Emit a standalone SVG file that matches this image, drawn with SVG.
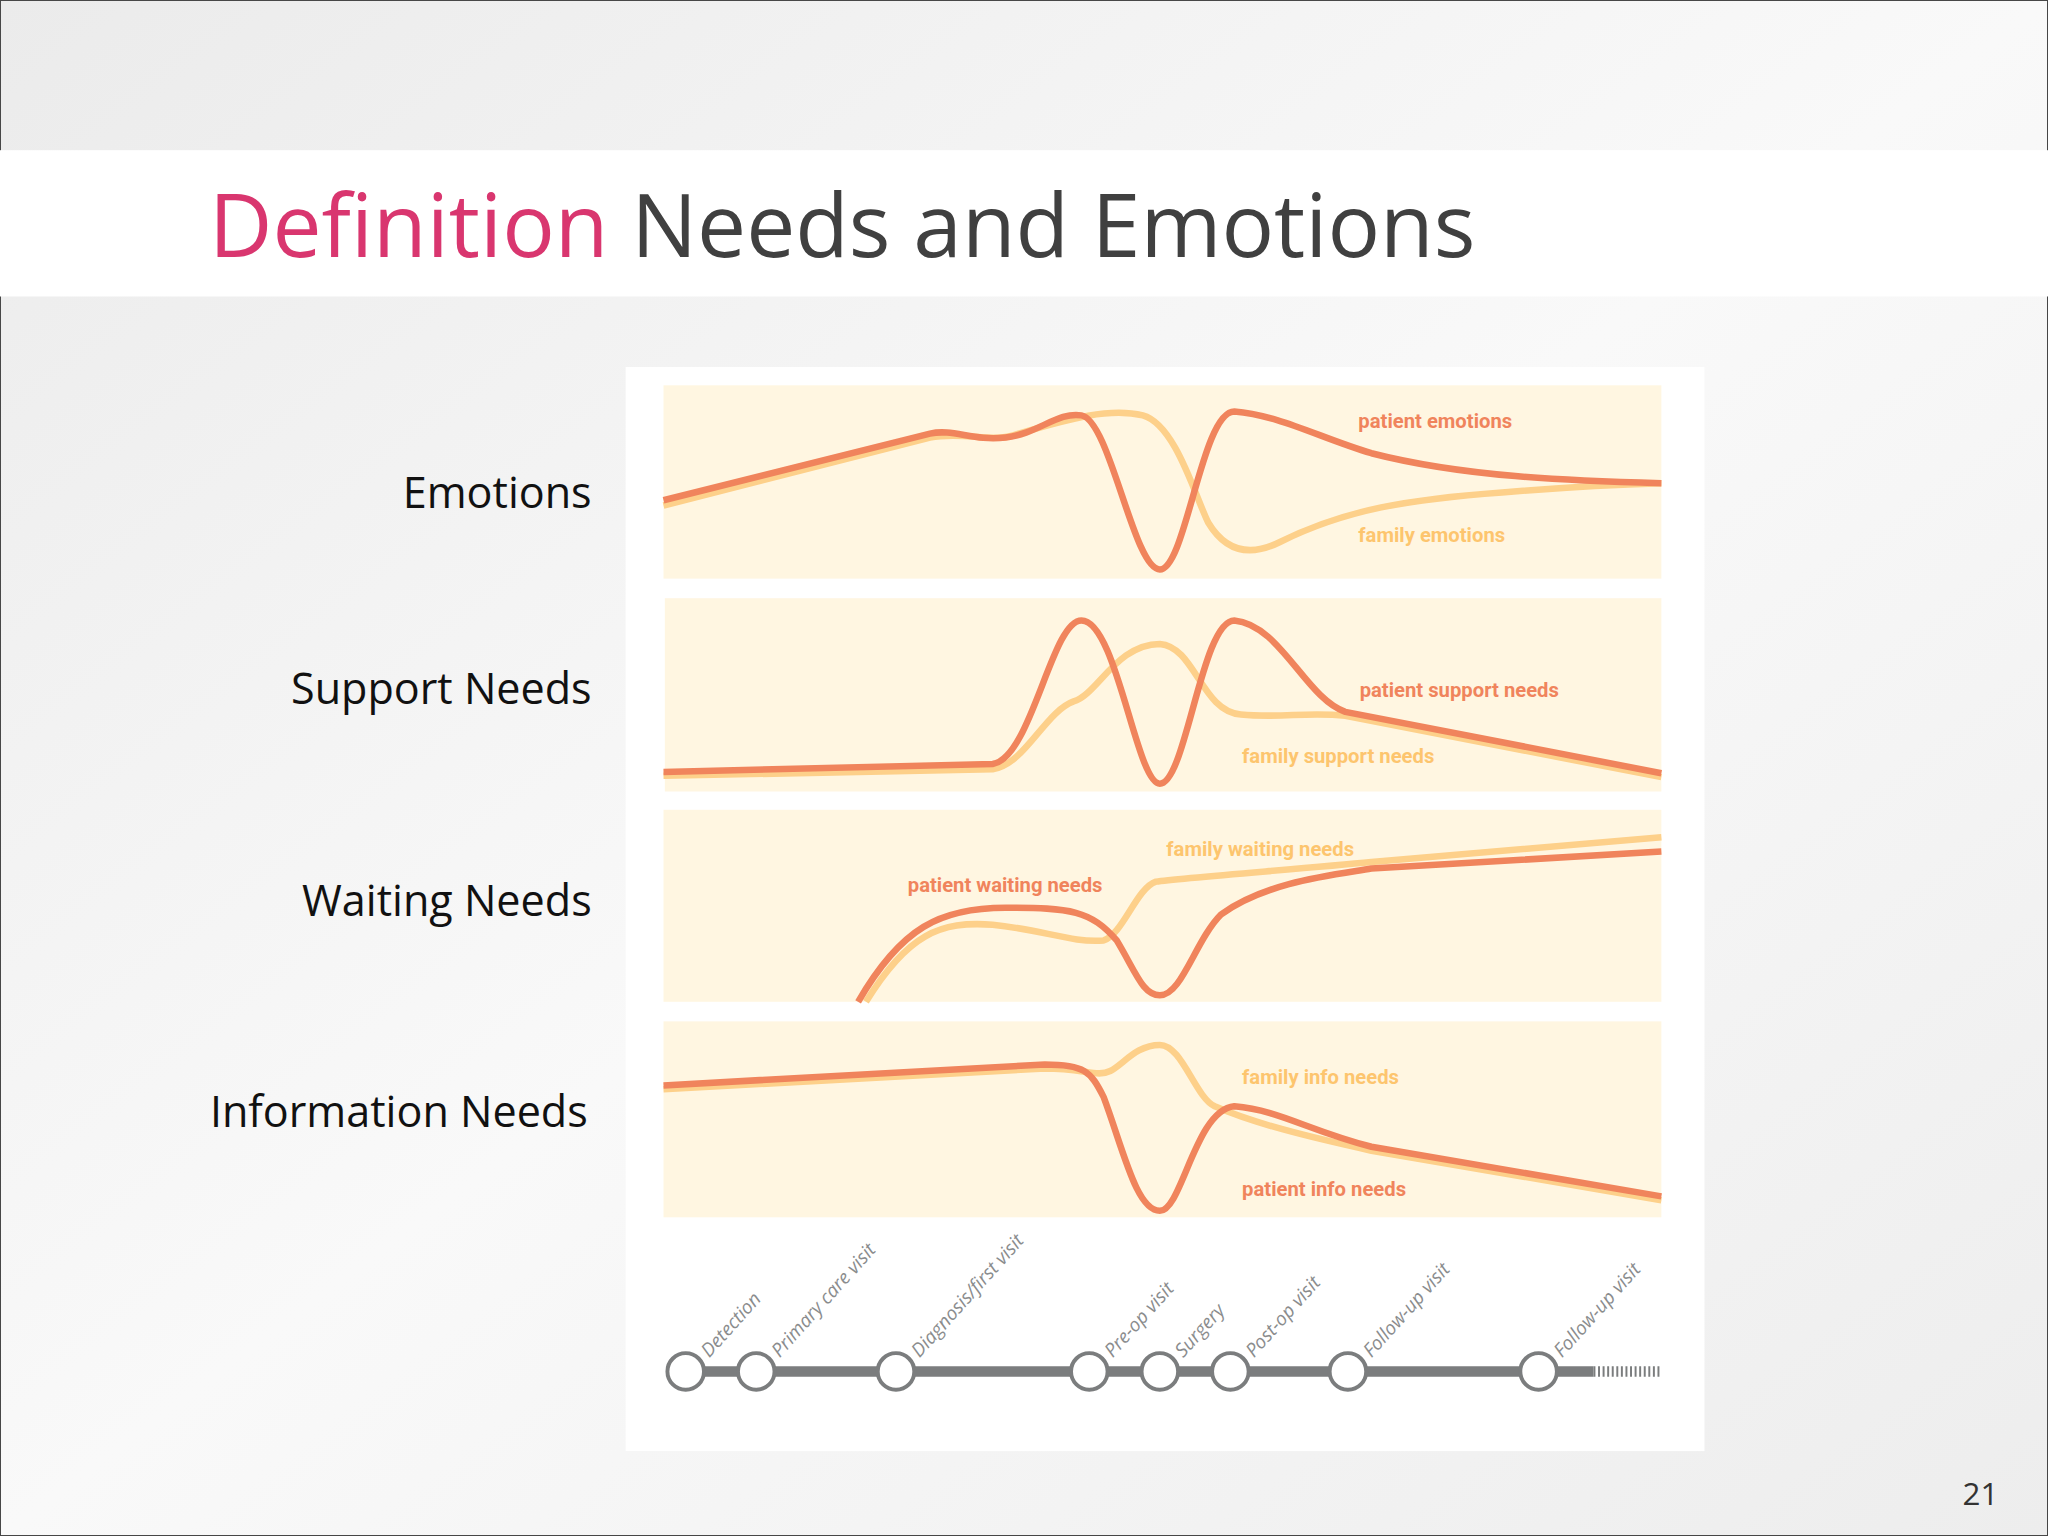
<svg xmlns="http://www.w3.org/2000/svg" width="2048" height="1536" viewBox="0 0 2048 1536">
<defs>
<linearGradient id="bg" x1="0" y1="0" x2="1" y2="1"><stop offset="0" stop-color="#ebebeb"/><stop offset="0.5" stop-color="#f9f9f9"/><stop offset="1" stop-color="#ededed"/></linearGradient>
<style>
.lbl{font-family:"Open Sans","Noto Sans",sans-serif;font-size:33px;fill:#111;text-anchor:end}
.panel{fill:#fff6e1}
.pt{fill:none;stroke:#f0845c;stroke-width:5;stroke-linejoin:round}
.fm{fill:none;stroke:#fdd08a;stroke-width:5;stroke-linejoin:round}
.cp{font-family:Roboto,"Liberation Sans",sans-serif;font-weight:bold;font-size:15.5px;fill:#f0845c}
.cf{font-family:Roboto,"Liberation Sans",sans-serif;font-weight:bold;font-size:15.5px;fill:#fdc56e}
.node{fill:#fff;stroke:#7b7d7e;stroke-width:3}
.tl{font-family:"Open Sans","Noto Sans",sans-serif;font-style:italic;font-size:14.5px;fill:#8a8c8d}
</style>
</defs>
<rect width="2048" height="1536" fill="url(#bg)"/>
<g transform="scale(1.30612)">
<rect x="0" y="0" width="1568" height="1176" fill="none" stroke="#444" stroke-width="1.5"/>
<rect x="0" y="115" width="1568" height="112" fill="#ffffff"/>
<text x="160" y="197" font-family="Open Sans,Noto Sans,sans-serif" font-size="67" fill="#404040"><tspan fill="#d9366f">Definition</tspan> Needs and Emotions</text>
<g id="labels">
<text class="lbl" x="453" y="389">Emotions</text>
<text class="lbl" x="453" y="539">Support Needs</text>
<text class="lbl" x="453" y="701">Waiting Needs</text>
<text class="lbl" x="450" y="863">Information Needs</text>
</g>
<rect x="479" y="281" width="826" height="830" fill="#ffffff"/>
<g id="panels">
<rect class="panel" x="508" y="295" width="764" height="148"/>
<rect class="panel" x="509" y="458" width="763" height="148"/>
<rect class="panel" x="508" y="620" width="764" height="147"/>
<rect class="panel" x="508" y="782" width="764" height="150"/>
</g>
<g id="emotions">
<path class="fm" d="M508,387 L712,335 C740,330 760,340 780,332 C820,320 850,312 875,318 C900,325 915,380 925,400 C940,425 960,425 980,415 C1030,390 1080,382 1150,377 C1200,373 1240,371 1272,370"/>
<path class="pt" d="M508,383 L712,332 C730,328 745,338 770,335 C795,332 810,315 828,318 C850,322 868,436 888,436 C908,436 920,315 945,315 C980,318 1010,335 1050,347 C1120,365 1200,368 1272,370"/>
<text class="cp" x="1040" y="328">patient emotions</text>
<text class="cf" x="1040" y="415">family emotions</text>
</g>
<g id="support">
<path class="fm" d="M508,594 L760,589 C785,585 800,545 822,537 C840,532 855,493 888,493 C915,495 920,545 950,547 C980,550 1000,545 1030,548 L1272,595"/>
<path class="pt" d="M508,591 L760,585 C790,580 805,475 828,475 C855,475 870,600 888,600 C908,600 920,475 945,475 C980,478 1000,535 1030,545 L1272,592"/>
<text class="cp" x="1041" y="534">patient support needs</text>
<text class="cf" x="951" y="584">family support needs</text>
</g>
<g id="waiting">
<path class="fm" d="M663,767 C695,715 720,705 760,708 C800,712 820,722 845,720 C860,715 870,680 885,675 C905,672 1000,665 1050,660 L1272,641"/>
<path class="pt" d="M657,767 C690,710 720,695 770,695 C820,695 835,697 855,720 C870,745 875,762 888,762 C905,762 915,720 935,700 C970,675 1020,670 1050,665 L1272,652"/>
<text class="cf" x="893" y="655">family waiting needs</text>
<text class="cp" x="695" y="683">patient waiting needs</text>
</g>
<g id="info">
<path class="fm" d="M508,834 L800,818 C830,818 840,825 850,820 C860,815 870,800 888,800 C905,800 915,840 930,847 C960,860 1000,870 1050,881 L1272,919"/>
<path class="pt" d="M508,831 L800,815 C830,815 835,820 845,840 C860,880 870,927 888,927 C905,927 915,850 945,847 C980,850 1000,865 1050,878 L1272,916"/>
<text class="cf" x="951" y="830">family info needs</text>
<text class="cp" x="951" y="916">patient info needs</text>
</g>
<g id="timeline">
<line x1="525" y1="1050" x2="1220" y2="1050" stroke="#7b7d7e" stroke-width="8"/>
<line x1="1220" y1="1050" x2="1272" y2="1050" stroke="#7b7d7e" stroke-width="8" stroke-dasharray="1.5 2"/>
<circle class="node" cx="525" cy="1050" r="14"/>
<circle class="node" cx="579" cy="1050" r="14"/>
<circle class="node" cx="686" cy="1050" r="14"/>
<circle class="node" cx="834" cy="1050" r="14"/>
<circle class="node" cx="888" cy="1050" r="14"/>
<circle class="node" cx="942" cy="1050" r="14"/>
<circle class="node" cx="1032" cy="1050" r="14"/>
<circle class="node" cx="1178" cy="1050" r="14"/>
<text class="tl" transform="translate(543,1040) rotate(-48)">Detection</text>
<text class="tl" transform="translate(597,1040) rotate(-48)">Primary care visit</text>
<text class="tl" transform="translate(704,1040) rotate(-48)">Diagnosis/first visit</text>
<text class="tl" transform="translate(852,1040) rotate(-48)">Pre-op visit</text>
<text class="tl" transform="translate(906,1040) rotate(-48)">Surgery</text>
<text class="tl" transform="translate(960,1040) rotate(-48)">Post-op visit</text>
<text class="tl" transform="translate(1050,1040) rotate(-48)">Follow-up visit</text>
<text class="tl" transform="translate(1196,1040) rotate(-48)">Follow-up visit</text>
</g>
<text x="1530" y="1152" font-family="Open Sans,Noto Sans,sans-serif" font-size="24" fill="#333" text-anchor="end">21</text>
</g>
</svg>
